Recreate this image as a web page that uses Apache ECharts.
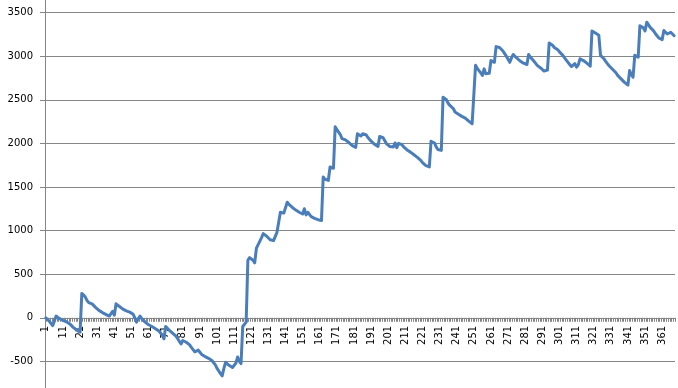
<!DOCTYPE html>
<html>
<head>
<meta charset="utf-8">
<script src="https://cdn.jsdelivr.net/npm/echarts@6/dist/echarts.min.js"></script>
<style>
html,body{margin:0;padding:0;background:#fff;}
#chart{width:678px;height:388px;}
</style>
</head>
<body>
<div id="chart"></div>
<script>
// Series values, one per category 1..368
const values = [
0,-20,-40,-60,-90,-110,20,0,-10,-20,
-30,-35,-45,-55,-70,-90,-110,-125,-140,-155,
-165,280,260,240,200,175,170,160,140,120,
100,85,70,60,50,40,30,20,10,75,
30,160,150,130,115,100,90,80,70,65,
55,40,0,-50,-10,20,-10,-30,-50,-70,
-80,-95,-100,-110,-125,-140,-150,-170,-200,-240,
-100,-110,-140,-160,-175,-190,-210,-240,-270,-300,
-260,-250,-280,-285,-310,-340,-360,-390,-380,-370,
-395,-420,-430,-445,-455,-465,-475,-490,-510,-540,
-580,-610,-640,-665,-580,-510,-530,-545,-560,-570,
-585,-520,-450,-500,-525,-100,-80,-50,660,690,
700,660,630,800,840,860,920,965,950,935,
915,895,885,885,880,980,975,1210,1190,1200,
1195,1325,1300,1280,1265,1250,1235,1225,1210,1200,
1190,1250,1180,1210,1190,1160,1150,1140,1135,1125,
1120,1115,1615,1590,1585,1575,1730,1720,1715,2190,
2160,2130,2100,2055,2045,2040,2025,2010,1995,1975,
1955,1955,2110,2090,2085,2110,2130,2100,2070,2050,
2025,2005,1990,1975,1965,2080,2070,2065,2030,1995,
1980,1965,1965,1960,2005,1950,2000,1990,1985,1960,
1940,1925,1915,1900,1885,1870,1860,1840,1820,1805,
1780,1765,1745,1735,1730,2025,2020,2005,1960,1930,
1920,1920,2530,2510,2500,2460,2435,2415,2400,2360,
2340,2335,2330,2310,2300,2290,2270,2255,2240,2225,
2215,2895,2860,2835,2810,2780,2855,2800,2790,2805,
2950,2940,2930,3110,3105,3100,3095,3060,3030,3000,
2980,2930,2980,3020,3000,2980,2960,2945,2930,2920,
2910,2905,3020,2990,2970,2945,2920,2895,2880,2865,
2850,2830,2835,2840,3150,3135,3125,3100,3085,3075,
3050,3035,3010,2980,2955,2930,2905,2880,2870,2915,
2875,2900,2970,2960,2950,2935,2920,2900,2885,3290,
3270,3265,3250,3240,3010,2990,2970,2940,2915,2890,
2870,2850,2830,2810,2780,2760,2740,2720,2700,2690,
2670,2835,2790,2760,3010,3000,2990,3350,3330,3325,
3290,3390,3370,3330,3315,3290,3260,3235,3210,3200,
3190,3295,3280,3255,3260,3275,3255,3235
];
// Categories 1..N (labels shown every 10th: 1, 11, 21, ...)
const categories = values.map((v, i) => String(i + 1));
const yMin = -1000, yMax = 4000, yStep = 500;

const chart = echarts.init(document.getElementById('chart'), null, {renderer: 'canvas'});
const gray = '#868686';
const option = {
  animation: false,
  backgroundColor: '#ffffff',
  grid: {left: 45, right: 3, top: -31, bottom: -17, containLabel: false, outerBoundsMode: 'none'},
  xAxis: {
    type: 'category',
    data: categories,
    boundaryGap: true,
    position: 'bottom',
    offset: 0,
    axisLine: {show: true, onZero: false, lineStyle: {color: gray, width: 1}},
    axisTick: {show: true, interval: 0, length: 4, lineStyle: {color: gray, width: 1}},
    axisLabel: {
      interval: 9, rotate: 90, margin: 8,
      fontFamily: 'DejaVu Sans', fontSize: 10, color: '#000'
    },
    splitLine: {show: false}
  },
  yAxis: {
    type: 'value',
    min: yMin, max: yMax, interval: yStep,
    axisLine: {show: true, lineStyle: {color: gray, width: 1}},
    axisTick: {show: true, length: 5, lineStyle: {color: gray, width: 1}},
    axisLabel: {margin: 12, fontFamily: 'DejaVu Sans', fontSize: 10, color: '#000',
      formatter: v => String(v)},
    splitLine: {show: true, lineStyle: {color: gray, width: 1}}
  },
  series: [{
    type: 'line',
    data: values,
    showSymbol: false,
    symbol: 'none',
    lineStyle: {color: '#4A7EBB', width: 3, cap: 'round', join: 'round'},
    z: 5
  }]
};
chart.setOption(option);
// Move the category axis up so it crosses the value axis at zero
const zeroY = chart.convertToPixel({yAxisIndex: 0}, 0);
const bottomY = chart.convertToPixel({yAxisIndex: 0}, yMin);
chart.setOption({xAxis: {offset: zeroY - bottomY}});
</script>
</body>
</html>
